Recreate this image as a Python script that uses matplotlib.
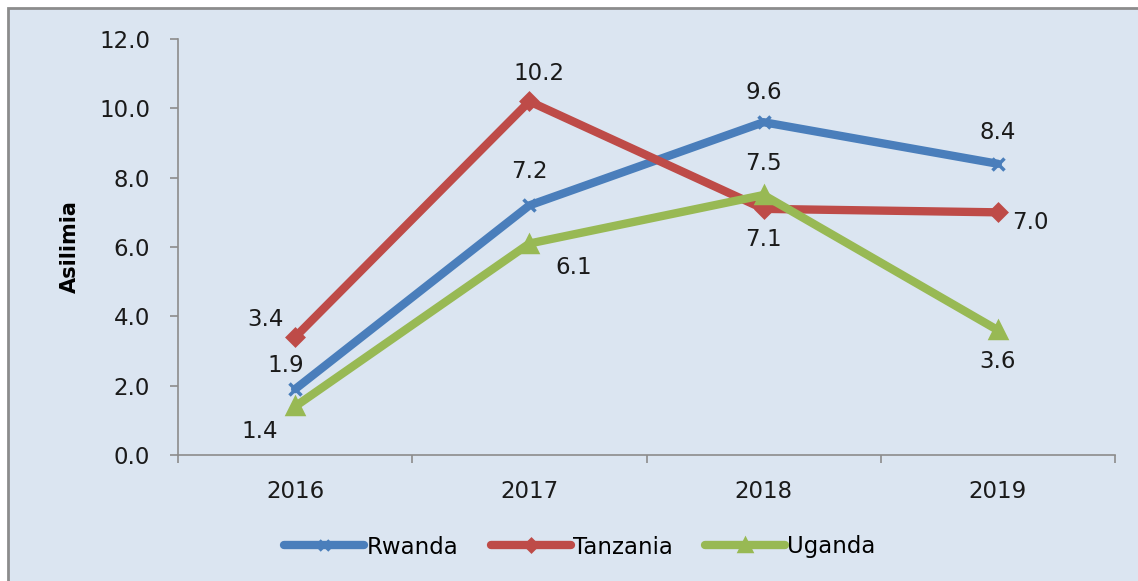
import matplotlib
matplotlib.use("Agg")
import matplotlib.pyplot as plt
from matplotlib.patches import Rectangle

years = ["2016", "2017", "2018", "2019"]
rwanda = [1.9, 7.2, 9.6, 8.4]
tanzania = [3.4, 10.2, 7.1, 7.0]
uganda = [1.4, 6.1, 7.5, 3.6]

# label offsets in pixels (dx, dy) for each point
rw_off = [(-9, 24), (0, 34), (0, 30), (0, 31)]
tz_off = [(-30, 18), (10, 28), (0, -31), (32, -10)]
ug_off = [(-35, -25), (44, -24), (0, 32), (0, -31)]

W, H = 1138, 581
fig = plt.figure(figsize=(W / 100, H / 100), dpi=100)
fig.patches.append(Rectangle((8 / W, -0.1), 1.0, 1 - 8 / H + 0.1, transform=fig.transFigure,
                             facecolor="#DBE5F1", edgecolor="#8C8C8C", linewidth=2, zorder=-10))

ax = fig.add_axes([178 / W, 1 - 455 / H, (1115 - 178) / W, (455 - 39) / H])
ax.set_facecolor("none")

FS = 16.5
x = list(range(len(years)))
series = [
    ("Rwanda", rwanda, "#4A7EBB", "x", rw_off, 9),
    ("Tanzania", tanzania, "#BE4B48", "D", tz_off, 8),
    ("Uganda", uganda, "#98B954", "^", ug_off, 11),
]
for name, vals, col, mk, offs, ms in series:
    ax.plot(x, vals, color=col, lw=6, marker=mk, ms=ms, mew=2.5,
            mec=col, mfc=col, label=name, solid_capstyle="round", zorder=3)
    for xi, v, (dx, dy) in zip(x, vals, offs):
        ax.annotate(f"{v:.1f}", (xi, v), xytext=(dx * 0.72, dy * 0.72),
                    textcoords="offset points", ha="center", va="center",
                    fontsize=FS, color="#1a1a1a")

ax.set_xlim(-0.5, 3.5)
ax.set_ylim(0, 12)
ax.set_yticks([0, 2, 4, 6, 8, 10, 12])
ax.set_yticklabels([f"{v:.1f}" for v in [0, 2, 4, 6, 8, 10, 12]])
ax.set_xticks(x)
ax.set_xticklabels(years)
ax.set_xticks([-0.5, 0.5, 1.5, 2.5, 3.5], minor=True)
ax.tick_params(axis="x", which="major", length=0, pad=18, labelsize=FS, labelcolor="#1a1a1a")
ax.tick_params(axis="x", which="minor", length=6, color="#8C8C8C", width=1.2)
ax.tick_params(axis="y", length=6, pad=14, color="#8C8C8C", width=1.2,
               labelsize=FS, labelcolor="#1a1a1a")
for s in ["top", "right"]:
    ax.spines[s].set_visible(False)
for s in ["left", "bottom"]:
    ax.spines[s].set_color("#8C8C8C")
    ax.spines[s].set_linewidth(1.2)

fig.text(70 / W, 1 - 247 / H, "Asilimia", rotation=90, ha="center", va="center",
         fontsize=15, fontweight="bold")

leg = fig.legend(loc="center", bbox_to_anchor=(580 / W, 1 - 547 / H), ncol=3,
                 frameon=False, fontsize=FS, handlelength=3.5, handletextpad=0.1,
                 columnspacing=1.4, markerscale=0.8)

fig.savefig("out.png", dpi=100)
